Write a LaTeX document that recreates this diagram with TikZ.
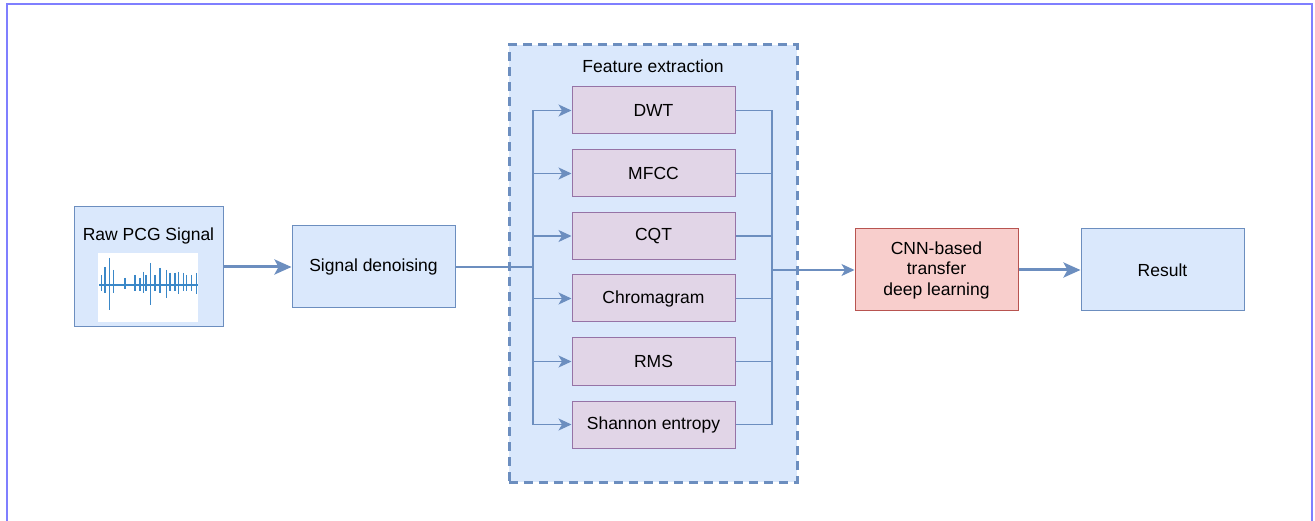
\documentclass[tikz,border=0pt]{standalone}
\usepackage{fontspec}
\setmainfont{Liberation Sans}
\usetikzlibrary{arrows.meta}
\definecolor{bluefill}{HTML}{DAE8FC}
\definecolor{bluestroke}{HTML}{6C8EBF}
\definecolor{purplefill}{HTML}{E1D5E7}
\definecolor{purplestroke}{HTML}{9673A6}
\definecolor{redfill}{HTML}{F8CECC}
\definecolor{redstroke}{HTML}{B85450}
\definecolor{framecol}{HTML}{7F7FFF}
\definecolor{wave}{HTML}{3B88C8}
\tikzset{
  base/.style={draw, line width=1pt, inner sep=2pt, align=center,
    font=\fontsize{17.5}{20.5}\selectfont},
  bluebox/.style={base, fill=bluefill, draw=bluestroke, minimum width=163pt, minimum height=82pt},
  featbox/.style={base, fill=purplefill, draw=purplestroke, minimum width=163pt, minimum height=47pt},
  redbox/.style={base, fill=redfill, draw=redstroke, minimum width=163pt, minimum height=82pt},
  thin/.style={draw=bluestroke, line width=1.2pt},
  thinarrow/.style={thin, -{Stealth[length=13pt, width=12pt, inset=3.5pt]}},
  thickarrow/.style={draw=bluestroke, line width=3pt, -{Stealth[length=17pt, width=15pt, inset=4pt]}},
  txt/.style={font=\fontsize{17.5}{20.5}\selectfont, inner sep=0pt}
}
\begin{document}
\begin{tikzpicture}[x=1pt, y=-1pt]
\useasboundingbox (0,0) rectangle (1315,521);
% outer frame
\draw[framecol, line width=2pt] (7,540) -- (7,4) -- (1312,4) -- (1312,540);

% feature extraction container
\node[draw=bluestroke, fill=bluefill, line width=3pt, dash pattern=on 9pt off 6pt,
      minimum width=288pt, minimum height=437pt, inner sep=0pt] (fe) at (653,263.5) {};
\node[txt] (felbl) at (653,66) {Feature extraction};

% raw signal box with its waveform thumbnail
\node[bluebox, minimum width=149pt, minimum height=120pt] (raw) at (148.5,267) {};
\node[txt] (rawlbl) at (148.5,236) {Raw PCG Signal};
\fill[white] (98,253) rectangle (198,322);
\draw[wave, line width=1.6pt] (99,285) -- (198,285);
\foreach \x/\u/\d in {101.7/10/6, 105/18/8, 109.3/27/25, 113.3/15/8, 125/7/4, 135/10/6,
  140/7/6, 143.3/13/8, 146/10/6, 150.7/22/20, 155/10/6, 160/17/8, 166.7/15/13,
  170/12/6, 175/12/6, 178.3/13/9, 183.3/12/6, 186.7/10/6, 191.7/10/6, 196.7/12/9}
  \draw[wave, line width=1.4pt] (\x,285-\u) -- (\x,285+\d);

% processing chain
\node[bluebox] (den) at (373.5,267) {Signal denoising};
\node[featbox] (dwt) at (653.5,110.5) {DWT};
\node[featbox] (mfcc) at (653.5,173.5) {MFCC};
\node[featbox] (cqt) at (653.5,236) {CQT};
\node[featbox] (chroma) at (653.5,298.5) {Chromagram};
\node[featbox] (rms) at (653.5,361.5) {RMS};
\node[featbox] (shan) at (653.5,424.5) {Shannon entropy};
\node[redbox] (cnn) at (936.5,270) {CNN-based\\transfer\\deep learning};
\node[bluebox] (res) at (1162.5,270) {Result};

\coordinate (busL) at (533,267);
\coordinate (busR) at (772,270);

% connectors
\draw[thickarrow] (raw.east) -- (den.west);
\draw[thin] (den.east) -- (busL);
\foreach \n in {dwt,mfcc,cqt,chroma,rms,shan}
  \draw[thinarrow] (busL) |- (\n.west);
\foreach \n in {dwt,mfcc,cqt,chroma,rms,shan}
  \draw[thin] (\n.east) -| (busR);
\draw[thinarrow] (busR) -- (cnn.west);
\draw[thickarrow] (cnn.east) -- (res.west);
\end{tikzpicture}
\end{document}
